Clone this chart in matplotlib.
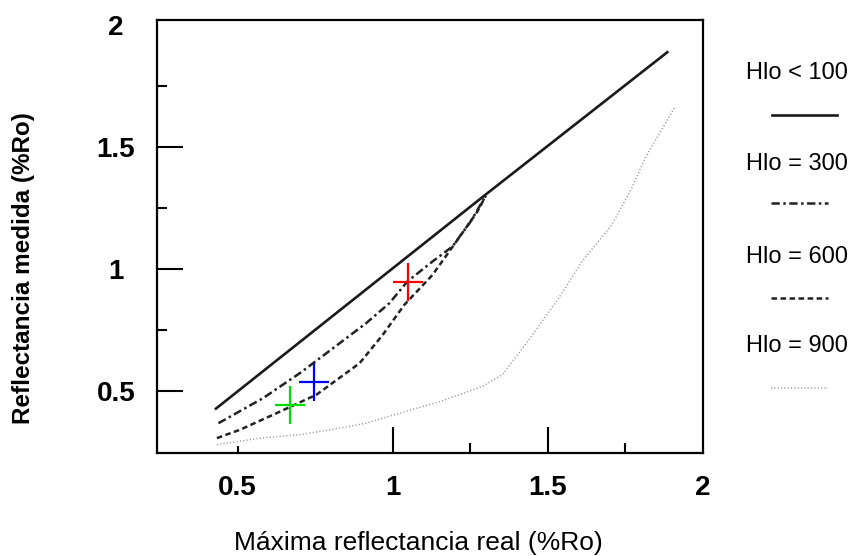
import matplotlib
matplotlib.use("Agg")
import matplotlib.pyplot as plt
from matplotlib.lines import Line2D

# curve data
solid_x = [0.43, 1.30, 1.885]
solid_y = [0.427, 1.305, 1.888]

hlo300_x = [0.438, 0.582, 0.700, 0.786, 0.914, 0.989, 1.047, 1.128, 1.192, 1.251, 1.300]
hlo300_y = [0.367, 0.470, 0.572, 0.654, 0.777, 0.859, 0.948, 1.030, 1.091, 1.194, 1.300]

hlo600_x = [0.433, 0.507, 0.625, 0.754, 0.893, 0.968, 1.037, 1.128, 1.182, 1.273, 1.300]
hlo600_y = [0.306, 0.340, 0.408, 0.484, 0.613, 0.730, 0.852, 0.975, 1.071, 1.235, 1.300]

hlo900_x = [0.433, 0.572, 0.700, 0.829, 0.914, 1.00, 1.15, 1.289, 1.353, 1.439, 1.535, 1.610, 1.706, 1.770, 1.813, 1.910]
hlo900_y = [0.279, 0.306, 0.320, 0.347, 0.367, 0.40, 0.455, 0.518, 0.566, 0.709, 0.880, 1.030, 1.180, 1.330, 1.453, 1.665]

# measured points (crosses)
cross_x = [0.668, 0.745, 1.048]
cross_y = [0.440, 0.538, 0.948]
cross_colors = ["#00dd00", "#0000ff", "#ff0000"]

xticks = [0.5, 1, 1.5, 2]
xtick_labels = ["0.5", "1", "1.5", "2"]
yticks = [0.5, 1, 1.5, 2]
ytick_labels = ["0.5", "1", "1.5", "2"]
x_minor = [1.25, 1.75]
y_minor = [0.75, 1.25, 1.75]

legend_labels = ["Hlo < 100", "Hlo = 300", "Hlo = 600", "Hlo = 900"]

plt.rcParams["font.family"] = ["Liberation Sans", "DejaVu Sans"]
plt.rcParams["lines.scale_dashes"] = False

styles = [
    dict(color="#1a1a1a", lw=1.9, ls="-"),
    dict(color="#222222", lw=1.8, ls=(0, (6, 2.5, 1.8, 2.5))),
    dict(color="#222222", lw=1.8, ls=(0, (4, 2.5))),
    dict(color="#999999", lw=1.1, ls=(0, (0.8, 1.6))),
]

fig = plt.figure(figsize=(8.54, 5.56), dpi=100)
ax = fig.add_axes([157 / 854, 1 - 453 / 556, 546 / 854, 433 / 556])

ax.plot(solid_x, solid_y, **styles[0])
ax.plot(hlo300_x, hlo300_y, **styles[1])
ax.plot(hlo600_x, hlo600_y, **styles[2])
ax.plot(hlo900_x, hlo900_y, **styles[3])

for cx, cy, cc in zip(cross_x, cross_y, cross_colors):
    ax.plot(cx, cy, marker="|", ms=28, mew=1.6, color=cc)
    ax.plot(cx, cy, marker="_", ms=22, mew=1.6, color=cc)

ax.set_xlim(0.24, 2.0)
ax.set_ylim(0.245, 2.02)

for s in ax.spines.values():
    s.set_linewidth(1.6)

ax.set_xticks(xticks, labels=xtick_labels)
ax.set_yticks(yticks, labels=ytick_labels)
ax.set_xticks(x_minor, minor=True)
ax.set_yticks(y_minor, minor=True)
ax.tick_params(which="major", direction="in", length=19, width=1.5, pad=15.5)
ax.tick_params(which="minor", direction="in", length=7, width=1.5)
ax.tick_params(axis="y", which="major", pad=29.5)
for lab in ax.get_xticklabels() + ax.get_yticklabels():
    lab.set_fontweight("bold")
    lab.set_fontsize(20)
for lab in ax.get_yticklabels():
    lab.set_horizontalalignment("center")

xt = ax.xaxis.get_major_ticks()
xt[0].tick1line.set_markersize(5)
xt[-1].tick1line.set_visible(False)
ax.yaxis.get_major_ticks()[-1].tick1line.set_visible(False)

fig.text(24 / 854, 1 - 268 / 556, "Reflectancia medida (%Ro)", rotation=90,
         ha="center", va="center", fontsize=17.5, fontweight="bold")
fig.text(418 / 854, 1 - 543 / 556, "Máxima reflectancia real (%Ro)",
         ha="center", va="center", fontsize=19)

# legend drawn by hand to the right of the axes
text_y = [73, 164, 257, 346]
line_y = [115, 203, 298, 388]
line_x1 = [772, 771, 771, 771]
line_x2 = [837, 828, 828, 828]
for lab, ty, ly, x1, x2, st in zip(legend_labels, text_y, line_y, line_x1, line_x2, styles):
    fig.text(797 / 854, 1 - ty / 556, lab, ha="center", va="center", fontsize=17)
    fig.add_artist(Line2D([x1 / 854, x2 / 854], [1 - ly / 556, 1 - ly / 556],
                          transform=fig.transFigure, **st))

fig.savefig("out.png", dpi=100)
